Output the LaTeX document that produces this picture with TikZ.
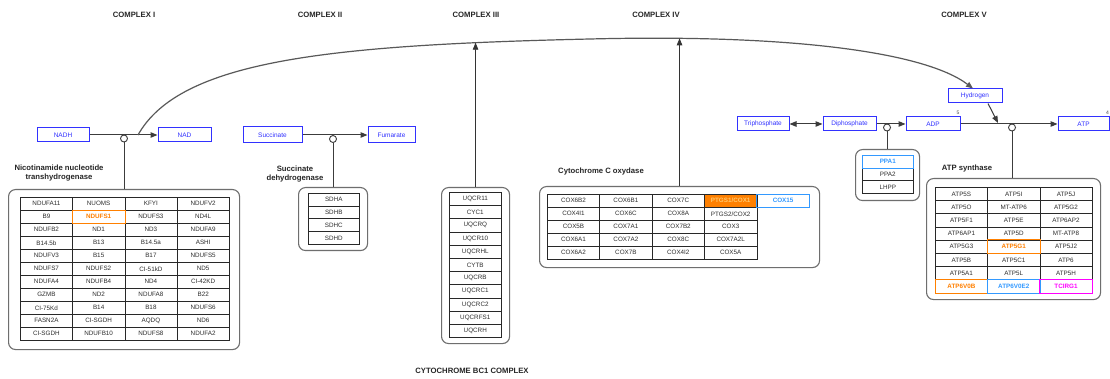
\documentclass[tikz,border=0pt]{standalone}
\usepackage{fontspec}
\setmainfont{Liberation Sans}
\usetikzlibrary{arrows.meta,backgrounds,intersections}
\definecolor{metab}{RGB}{50,50,255}
\definecolor{orangec}{RGB}{255,128,0}
\definecolor{lorange}{RGB}{255,200,110}
\definecolor{lblue}{RGB}{51,153,255}
\definecolor{magc}{RGB}{255,0,255}
\definecolor{linec}{RGB}{60,60,60}
\definecolor{grpc}{RGB}{110,110,110}
\definecolor{cellc}{RGB}{40,40,40}
\definecolor{txtc}{RGB}{45,45,45}
\newcommand\cellO[1]{\textcolor{orangec}{\bfseries #1}}
\newcommand\cellB[1]{\textcolor{lblue}{\bfseries #1}}
\newcommand\cellM[1]{\textcolor{magc}{\bfseries #1}}
\newcommand\cellF[1]{\textcolor{lorange}{\bfseries #1}}
\newcommand\mktable[6]{%
  \foreach \rowlist [count=\r from 0] in {#6} {%
    \foreach \g [count=\c from 0] in \rowlist {%
      \node[cell, minimum width=#4pt, minimum height=#5pt] (#1-\r-\c) at ({#2+#4*\c},{#3+#5*\r}) {\g};
    }}}
\tikzset{
  cell/.style={draw=cellc, line width=0.55pt, inner sep=0pt, anchor=north west, text=txtc, font=\fontsize{6.3}{7}\selectfont},
  metabox/.style={draw=metab, line width=1pt, text=metab, minimum height=14pt, inner sep=0pt, font=\fontsize{6.5}{7}\selectfont},
  grp/.style={draw=grpc, line width=1.1pt, rounded corners=7pt, anchor=north west, inner sep=0pt},
  title/.style={font=\fontsize{7.7}{9}\selectfont\bfseries, text=black!85},
  glabel/.style={font=\fontsize{7.7}{9}\selectfont\bfseries, align=center, text=black!85},
  circ/.style={circle, draw=linec, fill=white, line width=0.9pt, minimum size=7pt, inner sep=0pt},
  ln/.style={draw=linec, line width=1pt},
  arr/.style={-{Triangle[length=7pt,width=5.5pt]}},
  hlO/.style={draw=orangec, line width=0.9pt},
  hlB/.style={draw=lblue, line width=0.9pt},
  hlM/.style={draw=magc, line width=0.9pt},
  small/.style={font=\fontsize{5}{6}\selectfont, text=black!70}
}
\begin{document}
\begin{tikzpicture}[x=1pt,y=-1pt]
\useasboundingbox (0,0) rectangle (1110,379);

% titles
\node[title] (tI) at (134,15) {COMPLEX I};
\node[title] (tII) at (320,15) {COMPLEX II};
\node[title] (tIII) at (476,15) {COMPLEX III};
\node[title] (tIV) at (656,15) {COMPLEX IV};
\node[title] (tV) at (964,15) {COMPLEX V};
\node[title] (tBC) at (472,371) {CYTOCHROME BC1 COMPLEX};

% metabolites
\node[metabox, minimum width=52pt] (nadh) at (63,135) {NADH};
\node[metabox, minimum width=53pt] (nad) at (184.5,135) {NAD};
\node[metabox, minimum width=59pt, minimum height=16pt] (succ) at (272.5,135) {Succinate};
\node[metabox, minimum width=47pt, minimum height=16pt] (fum) at (391.5,135) {Fumarate};
\node[metabox, minimum width=52pt] (tri) at (763,124) {Triphosphate};
\node[metabox, minimum width=53pt] (di) at (849.5,124) {Diphosphate};
\node[metabox, minimum width=54pt] (adp) at (933,124) {ADP};
\node[metabox, minimum width=51pt] (atp) at (1083.5,124) {ATP};
\node[metabox, minimum width=54pt] (hyd) at (975,96) {Hydrogen};
\node[small] (n5) at (958,113) {5};
\node[small] (n4) at (1107.5,113) {4};

% group boxes
\node[grp, minimum width=231pt, minimum height=160pt] (gI) at (8,189) {};
\node[grp, minimum width=69pt, minimum height=63pt] (gII) at (298,187) {};
\node[grp, minimum width=68pt, minimum height=156pt] (gIII) at (441,187) {};
\node[grp, minimum width=280pt, minimum height=81pt] (gIV) at (539,186) {};
\node[grp, minimum width=64pt, minimum height=51pt] (gP) at (855,149) {};
\node[grp, minimum width=174pt, minimum height=121pt] (gV) at (926,178) {};

% group labels
\node[glabel] (lI) at (59,173.5) {Nicotinamide nucleotide\\transhydrogenase};
\node[glabel] (lII) at (295,174) {Succinate\\dehydrogenase};
\node[glabel] (lIV) at (601,172) {Cytochrome C oxydase};
\node[glabel] (lV) at (967,169) {ATP synthase};

% tables
\mktable{cI}{20}{197}{52.25}{13}{{NDUFA11,NUOMS,KFYI,NDUFV2},{B9,{\cellO{NDUFS1}},NDUFS3,ND4L},{NDUFB2,ND1,ND3,NDUFA9},{B14.5b,B13,B14.5a,ASHI},{NDUFV3,B15,B17,NDUFS5},{NDUFS7,NDUFS2,CI-51kD,ND5},{NDUFA4,NDUFB4,ND4,CI-42KD},{GZMB,ND2,NDUFA8,B22},{CI-75Kd,B14,B18,NDUFS6},{FASN2A,CI-SGDH,AQDQ,ND6},{CI-SGDH,NDUFB10,NDUFS8,NDUFA2}}
\mktable{cII}{308}{193}{51}{12.75}{SDHA,SDHB,SDHC,SDHD}
\mktable{cIII}{449}{192}{52}{13.2}{UQCR11,CYC1,UQCRQ,UQCR10,UQCRHL,CYTB,UQCRB,UQCRC1,UQCRC2,UQCRFS1,UQCRH}
\mktable{cIV}{547}{194}{52.4}{13}{{COX6B2,COX6B1,COX7C,{\cellF{PTGS1/COX1}},{\cellB{COX15}}},{COX4I1,COX6C,COX8A,PTGS2/COX2},{COX5B,COX7A1,COX7B2,COX3},{COX6A1,COX7A2,COX8C,COX7A2L},{COX6A2,COX7B,COX4I2,COX5A}}
\mktable{cP}{862}{155}{51}{12.7}{{{\cellB{PPA1}}},PPA2,LHPP}
\mktable{cV}{935}{187}{52.3}{13.2}{{ATP5S,ATP5I,ATP5J},{ATP5O,MT-ATP6,ATP5G2},{ATP5F1,ATP5E,ATP6AP2},{ATP6AP1,ATP5D,MT-ATP8},{ATP5G3,{\cellO{ATP5G1}},ATP5J2},{ATP5B,ATP5C1,ATP6},{ATP5A1,ATP5L,ATP5H},{{\cellO{ATP6V0B}},{\cellB{ATP6V0E2}},{\cellM{TCIRG1}}}}

% highlighted borders
\draw[hlO] (cI-1-1.north west) rectangle (cI-1-1.south east);
\draw[hlB] (cIV-0-4.north west) rectangle (cIV-0-4.south east);
\draw[hlB] (cP-0-0.north west) rectangle (cP-0-0.south east);
\draw[hlO] (cV-4-1.north west) rectangle (cV-4-1.south east);
\draw[hlO] (cV-7-0.north west) rectangle (cV-7-0.south east);
\draw[hlB] (cV-7-1.north west) rectangle (cV-7-1.south east);
\draw[hlM] (cV-7-2.north west) rectangle (cV-7-2.south east);

% circles (catalysis anchors)
\node[circ] (kI) at (124,138.5) {};
\node[circ] (kII) at (333,139) {};
\node[circ] (kP) at (887,127.5) {};
\node[circ] (kV) at (1012,127.5) {};

% reactions
\draw[ln,arr] (nadh) -- (nad);
\draw[ln,arr] (succ) -- (fum);
\draw[ln,{Triangle[length=7pt,width=5.5pt]}-{Triangle[length=7pt,width=5.5pt]}] (tri) -- (di);
\draw[ln,arr] (di) -- (adp);
\draw[ln,arr] (adp) -- (atp);
\coordinate (hT) at (998,123);
\draw[ln,arr] ([xshift=13pt]hyd.south) -- (hT);

% catalysis lines
\draw[ln] (kI.south) -- (kI.south |- gI.north);
\draw[ln] (kII.south) -- (kII.south |- gII.north);
\draw[ln] (kP.south) -- (kP.south |- gP.north);
\draw[ln] (kV.south) -- (kV.south |- gV.north);

% big arc
\coordinate (arcS) at (138,135);
\draw[draw=black!65, line width=1.2pt, arr, name path=arc] (arcS) .. controls (180,60) and (330,45) .. (590,39) .. controls (790,34) and (925,52) .. ([xshift=-2pt]hyd.north);
\path[name path=vIII] (gIII.north) -- ++(0,-200);
\path[name path=vIV] (gIV.north) -- ++(0,-200);
\path[name intersections={of=arc and vIII, by=xIII}];
\path[name intersections={of=arc and vIV, by=xIV}];
\draw[draw=black!80, line width=0.8pt, arr] (gIII.north) -- (xIII);
\draw[draw=black!80, line width=0.8pt, arr] (gIV.north) -- (xIV);

\begin{scope}[on background layer]
\fill[white] (0,0) rectangle (1110,379);
\fill[orangec] (cIV-0-3.north west) rectangle (cIV-0-3.south east);
\end{scope}
\end{tikzpicture}
\end{document}
